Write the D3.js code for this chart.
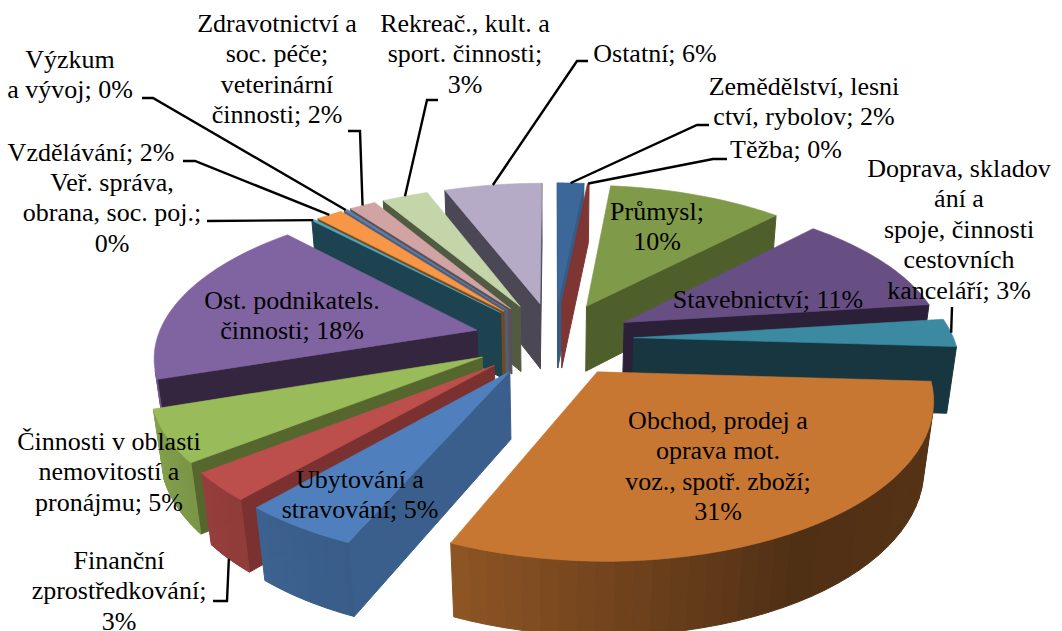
<!DOCTYPE html>
<html>
<head>
<meta charset="utf-8">
<script src="https://cdnjs.cloudflare.com/ajax/libs/d3/7.8.5/d3.min.js"></script>
<style>
body { margin: 0; background: #fff; }
text { font-family: "Liberation Serif", serif; font-size: 26px; fill: #000; }
</style>
</head>
<body>
<svg id="chart" width="1062" height="631"></svg>
<script>
// Shares (labels are rounded, so the tiny ones are estimates)
const categories = ["Zemědělství", "Těžba", "Průmysl", "Stavebnictví", "Doprava", "Obchod",
    "Ubytování", "Finanční", "Činnosti", "Podnikatels", "Veř. správa", "Vzdělávání",
    "Výzkum", "Zdravotnictví", "Rekreač", "Ostatní"];
const shares = [1.6, 0.1, 10.6, 11, 3, 31, 5, 3, 5.5, 18.3, 0.2, 1.6, 0.2, 1.6, 2.8, 5.9];
const labels = [
    ["Zemědělství, lesni", "ctví, rybolov; 2%"],
    ["Těžba; 0%"],
    ["Průmysl;", "10%"],
    ["Stavebnictví; 11%"],
    ["Doprava, skladov", "ání a", "spoje, činnosti", "cestovních", "kanceláří; 3%"],
    ["Obchod, prodej a", "oprava mot.", "voz., spotř. zboží;", "31%"],
    ["Ubytování a", "stravování; 5%"],
    ["Finanční", "zprostředkování;", "3%"],
    ["Činnosti v oblasti", "nemovitostí a", "pronájmu; 5%"],
    ["Ost. podnikatels.", "činnosti; 18%"],
    ["Veř. správa,", "obrana, soc. poj.;", "0%"],
    ["Vzdělávání; 2%"],
    ["Výzkum", "a vývoj; 0%"],
    ["Zdravotnictví a", "soc. péče;", "veterinární", "činnosti; 2%"],
    ["Rekreač., kult. a", "sport. činnosti;", "3%"],
    ["Ostatní; 6%"]
];
const topColors = ["#3c6799", "#7f3532", "#7f9a48", "#674f84", "#3b8aa2", "#c87733",
    "#4f80bd", "#bc4f4c", "#9abb59", "#8064a2", "#4bacc6", "#f79646",
    "#5f7fa8", "#d1a3a3", "#c3d5a9", "#b6abc7"];
const wallColors = ["#355b88", "#7f3532", "#4f5f2c", "#2c2038", "#17363f", "#5e3a1a",
    "#3a5f8c", "#7a312f", "#55672f", "#34263f", "#1c434f", "#74491f",
    "#4f5f75", "#5a5058", "#505b41", "#4c4755"];

// label placement: centre x and baseline of first line, one row per category
const labelX = [804, 786, 657, 768, 959, 718, 360, 119, 109, 292, 112, 91, 70, 277, 465, 655];
const labelY = [95, 158, 220, 308, 177, 429, 488, 569, 450, 309, 191, 161, 68, 32, 32, 62];
const labelStep = 30.4;
// leader lines, label end first; the last point is taken from the slice itself
const leaders = {
    0: [[709, 125], [697, 125]],
    1: [[727, 159], [713, 159]],
    4: [[952, 307]],
    7: [[213, 601], [227, 601]],
    10: [[207, 221]],
    11: [[183, 161], [195, 161]],
    12: [[142, 98], [153, 98]],
    13: [[348, 131], [360, 131]],
    14: [[438, 100], [427, 100]],
    15: [[588, 61], [577, 61]]
};
// this leader meets the bottom of the rim, the others the top
const leaderOnBottom = [7];

// camera
const cx = 554, cy = 339, scaleX = 320, scaleZ = 149, perspective = 0.154;
const depth = 68, depthPersp = 0.025, explode = 0.25, arcSteps = 40;

function project(x, z, t) {
    let w = 1 + perspective * z + depthPersp * t;
    return [cx + scaleX * x / w, cy - (scaleZ * z - depth * t) / w];
}

let svg = d3.select("#chart");

let arcs = d3.pie().sort(null)(shares);

// how much of the top colour is left on the rim, by angle from the back
let rimShade = d3.scaleLinear()
    .domain([0, 150, 205, 260, 360])
    .range([0.5, 0.4, 0.72, 0.88, 0.95])
    .clamp(true);

function shoelace(pts) {
    let s = 0;
    pts.forEach((p, i) => {
        let q = pts[(i + 1) % pts.length];
        s += p[0] * q[1] - q[0] * p[1];
    });
    return s;
}

let slices = arcs.map((d, i) => {
    let mid = (d.startAngle + d.endAngle) / 2;
    return {
        i: i,
        a0: d.startAngle,
        a1: d.endAngle,
        ox: explode * Math.sin(mid),
        oz: explode * Math.cos(mid),
        mid: mid
    };
});

// back to front
slices.sort((a, b) => Math.cos(b.mid) - Math.cos(a.mid));

let line = d3.line();
let gPie = svg.append("g");

function quad(pts, color) {
    if (shoelace(pts) >= 0) return;
    gPie.append("path")
        .attr("d", line(pts) + "Z")
        .attr("fill", color)
        .attr("stroke", color)
        .attr("stroke-width", 1);
}

slices.forEach(s => {
    let angle = d3.scaleLinear().domain([0, arcSteps]).range([s.a0, s.a1]);
    let rim = d3.range(arcSteps + 1).map(k => {
        let a = angle(k);
        return { a: a, x: s.ox + Math.sin(a), z: s.oz + Math.cos(a) };
    });
    let wall = wallColors[s.i];
    let first = rim[0], last = rim[arcSteps];

    quad([project(s.ox, s.oz, 0), project(first.x, first.z, 0), project(first.x, first.z, 1), project(s.ox, s.oz, 1)], wall);
    quad([project(last.x, last.z, 0), project(s.ox, s.oz, 0), project(s.ox, s.oz, 1), project(last.x, last.z, 1)], wall);

    for (let k = 0; k < arcSteps; k++) {
        let p = rim[k], q = rim[k + 1];
        let deg = (p.a + q.a) / 2 * 180 / Math.PI;
        let c = d3.rgb(topColors[s.i]);
        let f = rimShade(deg);
        quad([project(p.x, p.z, 0), project(q.x, q.z, 0), project(q.x, q.z, 1), project(p.x, p.z, 1)],
            d3.rgb(c.r * f, c.g * f, c.b * f).formatHex());
    }

    let top = [project(s.ox, s.oz, 0)].concat(rim.map(p => project(p.x, p.z, 0)));
    gPie.append("path")
        .attr("d", line(top) + "Z")
        .attr("fill", topColors[s.i])
        .attr("stroke", topColors[s.i])
        .attr("stroke-width", 0.6);
});

// leader lines
Object.keys(leaders).forEach(key => {
    let s = slices.find(d => d.i === +key);
    let t = leaderOnBottom.includes(+key) ? 1 : 0;
    let end = project(s.ox + Math.sin(s.mid), s.oz + Math.cos(s.mid), t);
    svg.append("path")
        .attr("d", line(leaders[key].concat([end])))
        .attr("fill", "none")
        .attr("stroke", "#000")
        .attr("stroke-width", 2.4);
});

// labels
labels.forEach((rows, i) => {
    let t = svg.append("text")
        .attr("text-anchor", "middle")
        .attr("x", labelX[i])
        .attr("y", labelY[i]);
    rows.forEach((r, j) => {
        t.append("tspan")
            .attr("x", labelX[i])
            .attr("dy", j === 0 ? 0 : labelStep)
            .text(r);
    });
});
</script>
</body>
</html>
